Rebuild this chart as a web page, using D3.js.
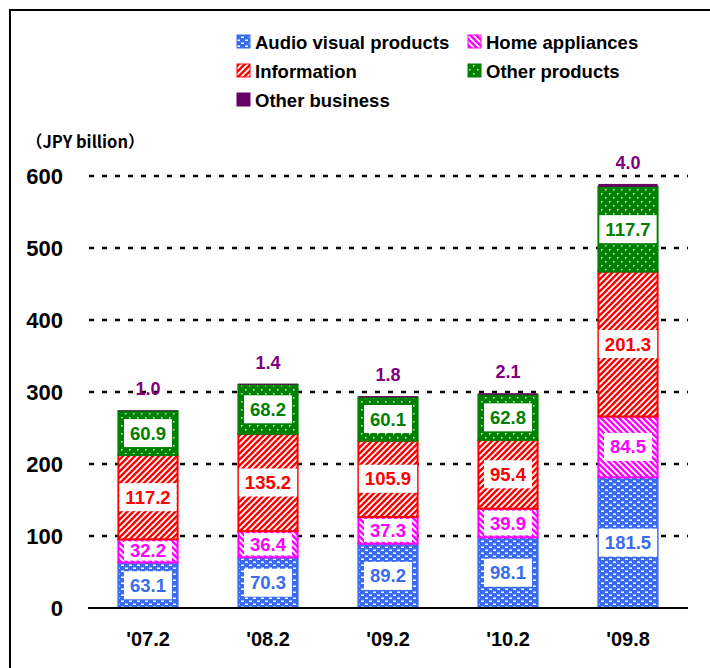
<!DOCTYPE html>
<html>
<head>
<meta charset="utf-8">
<script src="https://cdn.jsdelivr.net/npm/d3@7"></script>
<style>
  body { margin: 0; background: #fff; }
  text { font-family: "Liberation Sans", Arial, sans-serif; font-weight: bold; }
</style>
</head>
<body>
<svg id="chart" width="710" height="668"></svg>
<script>
// data (JPY billion)
const categories = ["'07.2", "'08.2", "'09.2", "'10.2", "'09.8"]
const audioVisual = [63.1, 70.3, 89.2, 98.1, 181.5]
const homeAppliances = [32.2, 36.4, 37.3, 39.9, 84.5]
const information = [117.2, 135.2, 105.9, 95.4, 201.3]
const otherProducts = [60.9, 68.2, 60.1, 62.8, 117.7]
const otherBusiness = [1.0, 1.4, 1.8, 2.1, 4.0]
const yTicks = [0, 100, 200, 300, 400, 500, 600]

const seriesNames = ["Audio visual products", "Home appliances", "Information", "Other products", "Other business"]
const seriesValues = [audioVisual, homeAppliances, information, otherProducts, otherBusiness]

const svg = d3.select("#chart")

// frame round the chart
svg.append("path").attr("d", "M10,668V10H710")
    .attr("fill", "none").attr("stroke", "#000").attr("stroke-width", 2)

// fill patterns
const defs = svg.append("defs")
function pattern(id, w, h, bg) {
    let p = defs.append("pattern").attr("id", id).attr("patternUnits", "userSpaceOnUse")
        .attr("width", w).attr("height", h)
    p.append("rect").attr("width", w).attr("height", h).attr("fill", bg)
    return p
}
let pAV = pattern("p-av", 8, 6, "#3b6cf0")
pAV.append("rect").attr("x", 1).attr("y", 0.5).attr("width", 3).attr("height", 1.5).attr("fill", "#fff")
pAV.append("rect").attr("x", 5).attr("y", 3.5).attr("width", 3).attr("height", 1.5).attr("fill", "#fff")

let pHome = pattern("p-home", 6, 6, "#ff00ff")
pHome.append("path").attr("d", "M-1,-1L7,7M-1,5L1,7M5,-1L7,1").attr("stroke", "#fff").attr("stroke-width", 1.8)

let pInfo = pattern("p-info", 6, 6, "#ff0000")
pInfo.append("path").attr("d", "M-1,7L7,-1M-1,1L1,-1M5,7L7,5").attr("stroke", "#fff").attr("stroke-width", 1.8)

let pOther = pattern("p-other", 8, 8, "#008000")
pOther.append("rect").attr("x", 1).attr("y", 1).attr("width", 1.5).attr("height", 1.5).attr("fill", "#d8ecd8")
pOther.append("rect").attr("x", 5).attr("y", 5).attr("width", 1.5).attr("height", 1.5).attr("fill", "#d8ecd8")

const fills = ["url(#p-av)", "url(#p-home)", "url(#p-info)", "url(#p-other)", "#660066"]
const strokes = ["#3b6cf0", "#ff00ff", "#ff0000", "#008000", "#660066"]
const labelColors = ["#3b6cf0", "#ff00ff", "#ff0000", "#008000", "#800080"]

// scales
let xScale = d3.scaleBand().domain(categories).range([88, 688]).paddingInner(0.49).paddingOuter(0.245)
let yScale = d3.scaleLinear().domain([0, 600]).range([608, 176])

// dotted grid
svg.append("g").selectAll("line").data(yTicks.filter(d => d > 0)).enter().append("line")
    .attr("x1", 89).attr("x2", 688)
    .attr("y1", d => yScale(d)).attr("y2", d => yScale(d))
    .attr("stroke", "#000").attr("stroke-width", 2.5).attr("stroke-dasharray", "5,8")

// y axis labels
let yAxis = d3.axisLeft(yScale).tickValues(yTicks).tickSize(0).tickPadding(0)
let yg = svg.append("g").attr("transform", "translate(63,0)").call(yAxis)
yg.select(".domain").remove()
yg.selectAll("text").attr("font-size", 22).attr("fill", "#000")
    .style("font-family", "'Liberation Sans', Arial, sans-serif").style("font-weight", "bold")

// stacked segments
const table = categories.map((c, i) => {
    let row = { cat: c }
    seriesNames.forEach((s, k) => row[s] = seriesValues[k][i])
    return row
})
const stacked = d3.stack().keys(seriesNames)(table)

stacked.forEach((layer, k) => {
    let g = svg.append("g")
    g.selectAll("rect").data(layer).enter().append("rect")
        .attr("x", d => xScale(d.data.cat) + 1)
        .attr("width", xScale.bandwidth() - 2)
        .attr("y", d => yScale(d[1]))
        .attr("height", d => yScale(d[0]) - yScale(d[1]))
        .attr("fill", fills[k])
        .attr("stroke", strokes[k]).attr("stroke-width", k == 4 ? 0 : 2)
})

// baseline
svg.append("line").attr("x1", 88).attr("x2", 688).attr("y1", yScale(0)).attr("y2", yScale(0))
    .attr("stroke", "#000").attr("stroke-width", 2)

// value labels in white boxes
stacked.slice(0, 4).forEach((layer, k) => {
    layer.forEach(d => {
        let cx = xScale(d.data.cat) + xScale.bandwidth() / 2
        let top = yScale(d[1]), bottom = yScale(d[0])
        let cy = (top + bottom) / 2
        let g = svg.append("g")
        let box = g.append("rect").attr("fill", "#fff")
        let t = g.append("text").attr("x", cx).attr("y", cy + 6.5)
            .attr("text-anchor", "middle").attr("font-size", 18.5).attr("fill", labelColors[k])
            .text(d3.format(".1f")(d[1] - d[0]))
        let w = t.node().getComputedTextLength() + 12
        let h = Math.min(28, bottom - top - 4)
        box.attr("x", cx - w / 2).attr("y", cy - h / 2).attr("width", w).attr("height", h)
    })
})

// other business labels above the bars
svg.append("g").selectAll("text").data(stacked[4]).enter().append("text")
    .attr("x", d => xScale(d.data.cat) + xScale.bandwidth() / 2)
    .attr("y", d => yScale(d[1]) - 15)
    .attr("text-anchor", "middle").attr("font-size", 18).attr("fill", "#800080")
    .text(d => d3.format(".1f")(d[1] - d[0]))

// category labels
let xAxis = d3.axisBottom(xScale).tickSize(0).tickPadding(0)
let xg = svg.append("g").attr("transform", "translate(0,646)").call(xAxis)
xg.select(".domain").remove()
xg.selectAll("text").attr("font-size", 20).attr("fill", "#000").attr("dy", 0)
    .style("font-family", "'Liberation Sans', Arial, sans-serif").style("font-weight", "bold")

// unit
svg.append("text").attr("x", 26).attr("y", 148).attr("font-size", 16.5)
    .style("font-family", "'Noto Sans CJK JP', 'Liberation Sans', sans-serif")
    .text("（JPY billion）")

// legend
const legendPos = [[237, 42], [468, 42], [237, 71], [468, 71], [237, 100]]
let lg = svg.append("g")
seriesNames.forEach((name, k) => {
    let [lx, ly] = legendPos[k]
    lg.append("rect").attr("x", lx).attr("y", ly - 7).attr("width", 13).attr("height", 13)
        .attr("fill", fills[k]).attr("stroke", strokes[k]).attr("stroke-width", 1)
    lg.append("text").attr("x", lx + 18).attr("y", ly + 7).attr("font-size", 18.5).attr("fill", "#000")
        .text(name)
})
</script>
</body>
</html>
